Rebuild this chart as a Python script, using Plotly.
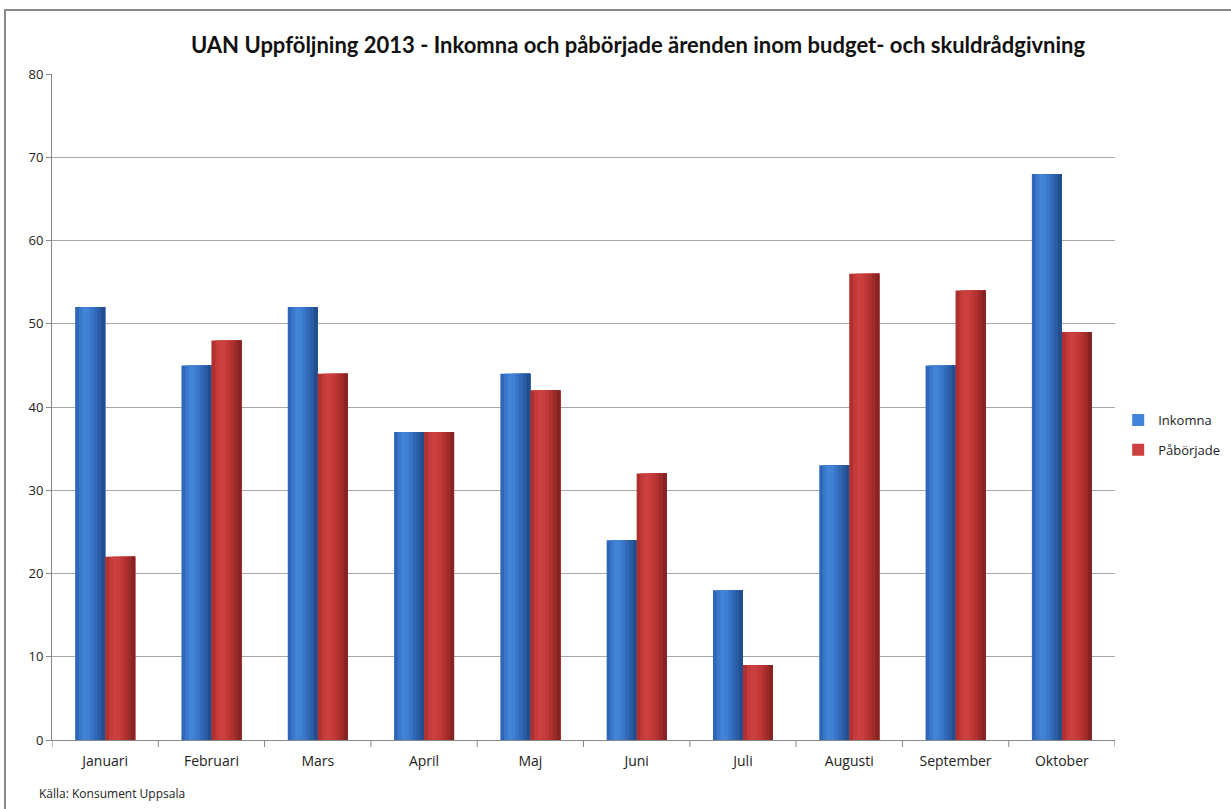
import plotly.graph_objects as go
import numpy as np

months = ["Januari", "Februari", "Mars", "April", "Maj", "Juni", "Juli", "Augusti", "September", "Oktober"]
inkomna = [52, 45, 52, 37, 44, 24, 18, 33, 45, 68]
paborjade = [22, 48, 44, 37, 42, 32, 9, 56, 54, 49]
series_names = ["Inkomna", "Påbörjade"]
y_ticks = [0, 10, 20, 30, 40, 50, 60, 70, 80]

title = "UAN Uppföljning 2013 - Inkomna och påbörjade ärenden inom budget- och skuldrådgivning"
source = "Källa: Konsument Uppsala"

# shading strips (cylinder-like look), left -> right; each strip overlays to the bar's right edge
blue_strips = ["#2f67b8", "#3a78cc", "#4285d8", "#3f80d4", "#3875c8", "#3168b6", "#2a5ca4", "#234e8e"]
red_strips = ["#b0302f", "#c23a39", "#cc4140", "#c93e3d", "#bf3837", "#b03130", "#9e2a2a", "#862323"]

x = np.arange(len(months))
bw = 0.282
n = len(blue_strips)
sw = bw / n

fig = go.Figure()
for vals, strips, start, name in [(inkomna, blue_strips, -bw, series_names[0]),
                                   (paborjade, red_strips, 0.0, series_names[1])]:
    for i, c in enumerate(strips):
        fig.add_trace(go.Bar(
            x=x, y=vals, name=name,
            offset=start + i * sw, width=bw - i * sw,
            marker=dict(color=c, line=dict(width=0)),
            showlegend=(i == 2), legendgroup=name,
            hoverinfo="y+name",
        ))

fig.update_layout(
    width=1231, height=809,
    margin=dict(l=52, r=116, t=74, b=69, autoexpand=False),
    paper_bgcolor="white", plot_bgcolor="white",
    barmode="overlay",
    font=dict(family="Open Sans, Arial", size=13, color="#222"),
    title=dict(text="<b>" + title + "</b>", x=(638 - 52) / 1063, xanchor="center", xref="paper",
               y=1 - 45 / 809, yanchor="middle",
               font=dict(family="Lato, Open Sans", size=22, color="#111")),
    xaxis=dict(
        tickmode="array", tickvals=list(x), ticktext=months,
        range=[-0.5, len(months) - 0.5],
        showline=True, linecolor="#888", linewidth=1,
        ticks="", showgrid=False, zeroline=False,
        ticklabelstandoff=8,
        tickfont=dict(family="Open Sans", size=14, color="#222"),
        fixedrange=True,
    ),
    yaxis=dict(
        range=[0, 80], tickvals=y_ticks,
        showgrid=True, gridcolor="#a8a8a8", gridwidth=1,
        showline=True, linecolor="#888", linewidth=1,
        ticks="outside", ticklen=5, tickcolor="#888",
        zeroline=False,
        tickfont=dict(family="Open Sans", size=13, color="#222"),
        fixedrange=True,
    ),
    legend=dict(x=1.003, y=(740 - 435) / 666, xanchor="left", yanchor="middle",
                font=dict(family="Open Sans", size=13, color="#222"),
                itemwidth=30, tracegroupgap=10, bgcolor="rgba(0,0,0,0)"),
    showlegend=True,
)

# category boundary tick marks on x-axis
shapes = []
for b in np.arange(-0.5, len(months) + 0.5, 1.0):
    shapes.append(dict(type="line", xref="x", yref="paper", x0=b, x1=b, y0=0, y1=-7 / 666,
                       line=dict(color="#888", width=1)))
# outer border of the chart area
shapes.append(dict(type="rect", xref="paper", yref="paper",
                   x0=(5 - 52) / 1063, x1=(1240 - 52) / 1063,
                   y0=(740 - 820) / 666, y1=(740 - 10) / 666,
                   line=dict(color="#8a8a8a", width=2), fillcolor="rgba(0,0,0,0)", layer="below"))
fig.update_layout(shapes=shapes)

fig.add_annotation(text=source, xref="paper", yref="paper",
                   x=(37 - 52) / 1063, y=(740 - 793) / 666, xanchor="left", yanchor="middle",
                   showarrow=False, font=dict(family="Open Sans", size=12, color="#222"))

fig.write_html("out.html")
